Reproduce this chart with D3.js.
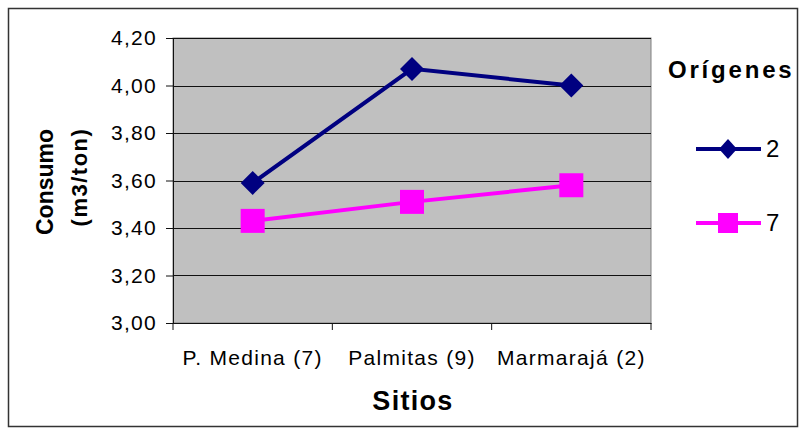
<!DOCTYPE html>
<html>
<head>
<meta charset="utf-8">
<script src="https://cdn.jsdelivr.net/npm/d3@7"></script>
<style>
  body { margin: 0; background: #fff; }
  text { font-family: "Liberation Sans", Arial, sans-serif; }
</style>
</head>
<body>
<div id="chart"></div>
<script>
const sitios = ["P. Medina (7)", "Palmitas (9)", "Marmarajá (2)"];
const origen2 = [3.59, 4.07, 4.00];
const origen7 = [3.43, 3.51, 3.58];
const yTicks = [3.0, 3.2, 3.4, 3.6, 3.8, 4.0, 4.2];

const w = 801, h = 429;
const m = { left: 173, right: 150, top: 38, bottom: 106 };

const svg = d3.select("div#chart")
  .append("svg")
  .attr("width", w)
  .attr("height", h);

// outer frame
svg.append("rect")
  .attr("x", 8.5).attr("y", 8.5)
  .attr("width", 789).attr("height", 418)
  .attr("fill", "#fff")
  .attr("stroke", "#333").attr("stroke-width", 1.5);

const x = d3.scaleBand()
  .domain(sitios)
  .range([m.left, w - m.right]);

const y = d3.scaleLinear()
  .domain([3.0, 4.2])
  .range([h - m.bottom, m.top]);

// plot area
svg.append("rect")
  .attr("x", m.left).attr("y", m.top)
  .attr("width", w - m.right - m.left)
  .attr("height", h - m.bottom - m.top)
  .attr("fill", "#c0c0c0")
  .attr("stroke", "#808080");

// grid lines
svg.append("g")
  .selectAll("line")
  .data(yTicks)
  .enter()
  .append("line")
  .attr("x1", m.left).attr("x2", w - m.right)
  .attr("y1", d => Math.round(y(d)) + 0.5)
  .attr("y2", d => Math.round(y(d)) + 0.5)
  .attr("stroke", "#111");

const fmt = d => d.toFixed(2).replace(".", ",");

// y axis
const yAxis = svg.append("g")
  .attr("transform", "translate(" + m.left + ",0)")
  .call(d3.axisLeft(y).tickValues(yTicks).tickFormat(fmt).tickSize(7).tickPadding(9));

// x axis
const xAxis = svg.append("g")
  .attr("transform", "translate(0," + (h - m.bottom) + ")")
  .call(d3.axisBottom(x).tickSize(0).tickPadding(27));

// category separator ticks
svg.append("g")
  .selectAll("line")
  .data(sitios.concat(["end"]))
  .enter()
  .append("line")
  .attr("x1", (d, i) => i < sitios.length ? x(d) : x.range()[1])
  .attr("x2", (d, i) => i < sitios.length ? x(d) : x.range()[1])
  .attr("y1", h - m.bottom)
  .attr("y2", h - m.bottom + 7)
  .attr("stroke", "#111");

[yAxis, xAxis].forEach(g => {
  g.selectAll("path.domain").attr("stroke", "#111");
  g.selectAll("line").attr("stroke", "#111");
  g.selectAll("text")
    .attr("font-family", "'Liberation Sans', Arial, sans-serif")
    .attr("font-size", 21)
    .attr("letter-spacing", 1.3)
    .attr("fill", "#000");
});

const cx = d => x(d) + x.bandwidth() / 2;

const line = d3.line()
  .x((d, i) => cx(sitios[i]))
  .y(d => y(d));

// series 2 (navy, diamonds)
svg.append("path")
  .datum(origen2)
  .attr("d", line)
  .attr("fill", "none")
  .attr("stroke", "#000080")
  .attr("stroke-width", 4);

const diamond = "M0,-12L12,0L0,12L-12,0Z";
svg.append("g")
  .selectAll("path")
  .data(origen2)
  .enter()
  .append("path")
  .attr("d", diamond)
  .attr("transform", (d, i) => "translate(" + cx(sitios[i]) + "," + y(d) + ")")
  .attr("fill", "#000080");

// series 7 (magenta, squares)
svg.append("path")
  .datum(origen7)
  .attr("d", line)
  .attr("fill", "none")
  .attr("stroke", "#ff00ff")
  .attr("stroke-width", 4);

svg.append("g")
  .selectAll("rect")
  .data(origen7)
  .enter()
  .append("rect")
  .attr("x", (d, i) => cx(sitios[i]) - 12)
  .attr("y", d => y(d) - 12)
  .attr("width", 24).attr("height", 24)
  .attr("fill", "#ff00ff");

// axis titles
svg.append("text")
  .attr("x", (m.left + w - m.right) / 2 + 1)
  .attr("y", 410)
  .attr("text-anchor", "middle")
  .attr("font-size", 27)
  .attr("letter-spacing", 1.3)
  .attr("font-weight", "bold")
  .text("Sitios");

svg.append("text")
  .attr("transform", "translate(53,182) rotate(-90)")
  .attr("text-anchor", "middle")
  .attr("font-size", 23)
  .attr("font-weight", "bold")
  .text("Consumo");

svg.append("text")
  .attr("transform", "translate(87,177) rotate(-90)")
  .attr("text-anchor", "middle")
  .attr("font-size", 22)
  .attr("letter-spacing", 1.5)
  .attr("font-weight", "bold")
  .text("(m3/ton)");

// legend
svg.append("text")
  .attr("x", 668).attr("y", 78)
  .attr("font-size", 24)
  .attr("letter-spacing", 2.8)
  .attr("font-weight", "bold")
  .text("Orígenes");

const legend = [
  { name: "2", color: "#000080", shape: "diamond", y: 149 },
  { name: "7", color: "#ff00ff", shape: "square", y: 223 }
];

const lg = svg.append("g")
  .selectAll("g")
  .data(legend)
  .enter()
  .append("g")
  .attr("transform", d => "translate(0," + d.y + ")");

lg.append("line")
  .attr("x1", 696).attr("x2", 761)
  .attr("stroke", d => d.color)
  .attr("stroke-width", 4);

lg.append("path")
  .attr("d", d => d.shape === "diamond" ? "M0,-10L9,0L0,10L-9,0Z" : "M-10,-10H10V10H-10Z")
  .attr("transform", "translate(728,0)")
  .attr("fill", d => d.color);

lg.append("text")
  .attr("x", 766).attr("y", 8)
  .attr("font-size", 24)
  .text(d => d.name);
</script>
</body>
</html>
